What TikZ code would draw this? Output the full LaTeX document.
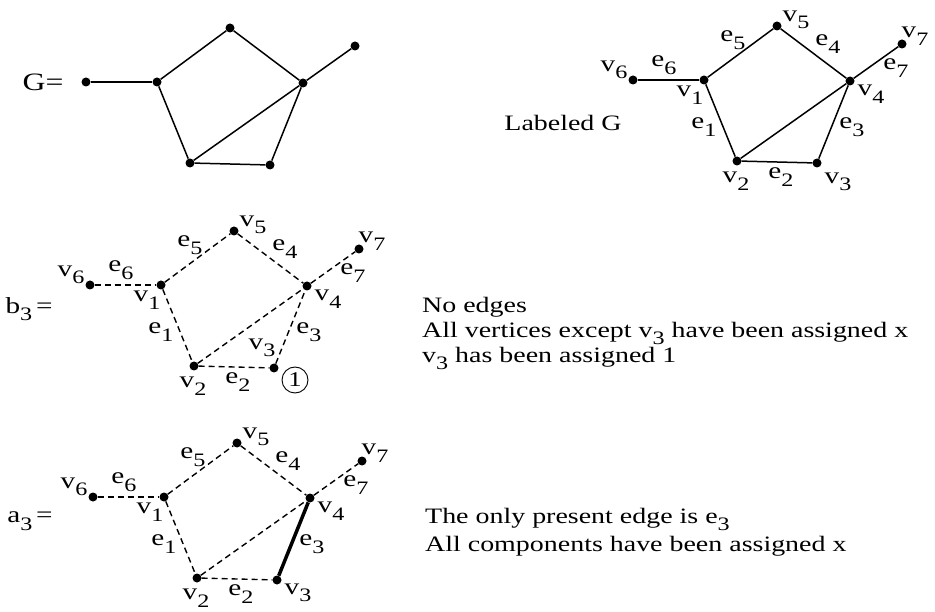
\documentclass[tikz,border=0pt]{standalone}
\usepackage{fontspec}
\setmainfont{Liberation Serif}[FakeStretch=1.27]
\usepackage{tikz}

\newcommand{\vsub}[2]{#1\raisebox{-0.33em}{\fontsize{19}{19}\selectfont #2}}

\begin{document}
\begin{tikzpicture}[
					x=1pt,y=-1pt,
					vnode/.style={circle,fill,inner sep=0pt,minimum size=9pt},
					gedge/.style={line width=1.5pt},
					dedge/.style={line width=1.4pt,dash pattern=on 6pt off 4pt},
					pedge/.style={line width=3.5pt},
					lab/.style={font=\fontsize{23}{23}\selectfont,inner sep=0pt},
					txt/.style={align=left,anchor=north west,inner sep=0pt}
					]
					\useasboundingbox (0,0) rectangle (935,612);
					% the four copies of the graph
					\foreach \g/\sx/\sy/\es in {g/86/82/gedge,l/633/80/gedge,b/90/285/dedge,a/93/497/dedge}{
						\begin{scope}[shift={(\sx,\sy)}]
							\foreach \i/\x/\y in {1/71/0,2/104/81,3/184/83,4/217/1,5/144/-54,6/0/0,7/269/-36}{
								\node[vnode] (\g\i) at (\x,\y) {};
							}
						\end{scope}
						\foreach \p/\q in {6/1,1/5,5/4,4/7,1/2,2/3,3/4,2/4}{
							\draw[\es] (\g\p) -- (\g\q);
						}
					}
					\draw[pedge] (a3) -- (a4);
					% vertex and edge labels
					\foreach \g/\sx/\sy in {l/633/80,b/90/285,a/93/497}{
						\begin{scope}[shift={(\sx,\sy)}]
							\foreach \t/\n/\x/\y in {v/6/-19/-10,e/6/31/-15,v/1/57/15,e/5/100/-40,v/5/163/-60,e/4/195/-36,v/7/282/-44,e/7/263/-12,v/4/238/14,e/3/219/47,e/1/71/47,v/2/103/101,e/2/148/97}{
								\node[lab] (\g\t\n) at (\x,\y) {\vsub{\t}{\n}};
							}
						\end{scope}
					}
					\node[lab] (lv3) at (838,182) {\vsub{v}{3}};
					\node[lab] (av3) at (298,593) {\vsub{v}{3}};
					\node[lab] (bv3) at (262,348) {\vsub{v}{3}};
					\node[draw,circle,line width=0.9pt,inner sep=0pt,minimum size=26pt,font=\fontsize{21}{21}\selectfont] (bone) at (295,380) {1};
					% names and notes
					\node[font=\fontsize{25}{25}\selectfont,inner sep=0pt] (gname) at (43,82) {G=};
					\node[lab,font=\fontsize{22}{22}\selectfont] (lname) at (563,123) {Labeled G};
					\node[lab] (bname) at (29,309) {\vsub{b}{3}\,=};
					\node[lab] (aname) at (30,521) {\vsub{a}{3}\,=};
					\node[txt,font=\fontsize{22}{25}\selectfont] (bnote) at (422,297) {No edges\\All vertices except \vsub{v}{3} have been assigned x\\\vsub{v}{3} has been assigned 1};
					\node[txt,font=\fontsize{22}{28}\selectfont] (anote) at (425,508) {The only present edge is \vsub{e}{3}\\All components have been assigned x};
				\end{tikzpicture}
\end{document}
